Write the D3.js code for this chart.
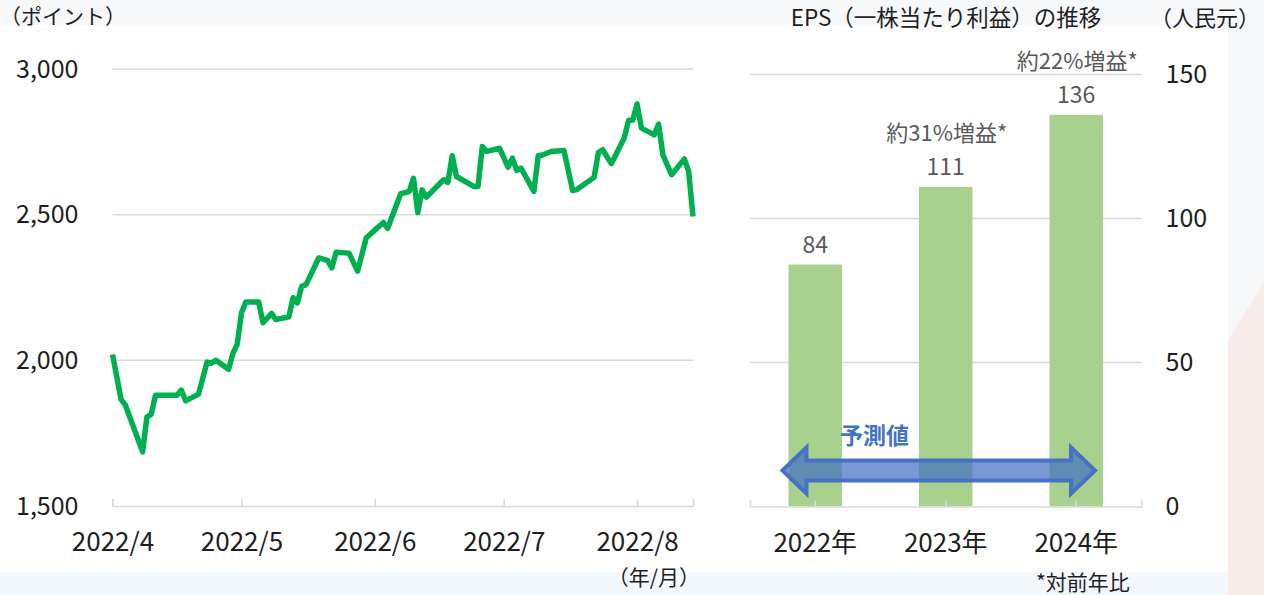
<!DOCTYPE html>
<html>
<head>
<meta charset="utf-8">
<script src="https://cdn.jsdelivr.net/npm/d3@7"></script>
<style>
  body { margin: 0; background: #fff; }
  svg { display: block; }
  text { font-family: "Noto Sans CJK JP", "Noto Sans", sans-serif; }
</style>
</head>
<body>
<svg id="chart" width="1264" height="595"></svg>
<script>
// Index level (points)
const indexDates = [
  "2022-04-01","2022-04-03","2022-04-04","2022-04-08","2022-04-09","2022-04-10","2022-04-11",
  "2022-04-16","2022-04-17","2022-04-18","2022-04-21","2022-04-23","2022-04-24","2022-04-25",
  "2022-04-28","2022-04-29","2022-04-30","2022-05-01","2022-05-02","2022-05-05","2022-05-06",
  "2022-05-08","2022-05-09","2022-05-12","2022-05-13","2022-05-14","2022-05-15","2022-05-16",
  "2022-05-19","2022-05-21","2022-05-22","2022-05-23","2022-05-26","2022-05-28","2022-05-30",
  "2022-06-01","2022-06-03","2022-06-04","2022-06-05","2022-06-07","2022-06-09","2022-06-10",
  "2022-06-11","2022-06-12","2022-06-13","2022-06-17","2022-06-18","2022-06-19","2022-06-20",
  "2022-06-24","2022-06-25","2022-06-26","2022-06-27","2022-06-30","2022-07-02","2022-07-03",
  "2022-07-04","2022-07-05","2022-07-08","2022-07-09","2022-07-10","2022-07-12","2022-07-15",
  "2022-07-17","2022-07-18","2022-07-22","2022-07-23","2022-07-24","2022-07-26","2022-07-29",
  "2022-07-30","2022-07-31","2022-08-01","2022-08-02","2022-08-05","2022-08-06","2022-08-07",
  "2022-08-09","2022-08-12","2022-08-13","2022-08-14"
];
const indexValues = [
  2020,1866,1846,1686,1805,1815,1880,
  1880,1898,1861,1884,1994,1990,2000,
  1969,2024,2055,2163,2200,2200,2129,
  2161,2140,2149,2215,2197,2254,2260,
  2352,2343,2317,2371,2368,2306,2420,
  2447,2473,2453,2493,2571,2580,2625,
  2507,2585,2560,2620,2611,2702,2631,
  2597,2597,2734,2717,2728,2663,2694,
  2652,2660,2580,2702,2705,2717,2720,
  2583,2586,2628,2713,2723,2675,2763,
  2823,2825,2880,2797,2774,2811,2705,
  2637,2691,2648,2494
];
const monthTicks = ["2022-04-01","2022-05-01","2022-06-01","2022-07-01","2022-08-01"];
const indexTicks = [1500, 2000, 2500, 3000];

// EPS (yuan)
const epsYears = ["2022年", "2023年", "2024年"];
const epsValues = [84, 111, 136];
const epsGrowth = ["", "約31%増益*", "約22%増益*"];
const epsTicks = [0, 50, 100, 150];

const parseDate = d3.timeParse("%Y-%m-%d");
const svg = d3.select("#chart");

// Background panels
svg.append("rect").attr("width", 1264).attr("height", 595).attr("fill", "#f7f8fa");
svg.append("rect").attr("x", 0).attr("y", 572).attr("width", 1228).attr("height", 23).attr("fill", "#f3f8fc");
svg.append("path").attr("d", "M1228,340 L1264,282 L1264,595 L1228,595 Z").attr("fill", "#f7ece9");
svg.append("rect").attr("x", 0).attr("y", 25).attr("width", 1228).attr("height", 547).attr("fill", "#fff");

const gridColor = "#d9d9d9";
const textColor = "#1e1e1e";

// ---------- Line chart ----------
const x = d3.scaleTime()
  .domain([parseDate("2022-04-01"), parseDate("2022-08-14")])
  .range([112.5, 693]);
const y = d3.scaleLinear().domain([1500, 3000]).range([506, 69]);

const lineData = indexDates.map((d, i) => ({date: parseDate(d), value: indexValues[i]}));

const left = svg.append("g");

left.append("g")
  .selectAll("line")
  .data(indexTicks.slice(1))
  .enter()
  .append("line")
  .attr("x1", x.range()[0]).attr("x2", x.range()[1])
  .attr("y1", (d) => y(d)).attr("y2", (d) => y(d))
  .attr("stroke", gridColor).attr("stroke-width", 1.5);

const xAxis = left.append("g")
  .attr("transform", `translate(0, ${y(1500)})`)
  .call(d3.axisBottom(x)
    .tickValues(monthTicks.map(parseDate))
    .tickFormat(d3.timeFormat("%Y/%-m"))
    .tickSizeInner(-7).tickSizeOuter(-7).tickPadding(27));
xAxis.selectAll("path, line").attr("stroke", gridColor).attr("stroke-width", 1.5);
xAxis.selectAll("text").attr("fill", textColor).style("font-size", "26px");

const yAxis = left.append("g")
  .attr("transform", `translate(${x.range()[0]}, 0)`)
  .call(d3.axisLeft(y).tickValues(indexTicks).tickFormat(d3.format(",")).tickSize(0).tickPadding(34));
yAxis.select(".domain").remove();
yAxis.selectAll("text").attr("fill", textColor).style("font-size", "25px");

const line = d3.line()
  .x((d) => x(d.date))
  .y((d) => y(d.value));

left.append("path")
  .attr("d", line(lineData))
  .attr("fill", "none")
  .attr("stroke", "#00b050")
  .attr("stroke-width", 5.5)
  .attr("stroke-linejoin", "round");

left.append("text").attr("x", 0).attr("y", 24)
  .attr("fill", textColor).style("font-size", "21px").text("（ポイント）");
left.append("text").attr("x", 700).attr("y", 585).attr("text-anchor", "end")
  .attr("fill", textColor).style("font-size", "21px").text("（年/月）");

// ---------- EPS bar chart ----------
const xb = d3.scaleBand().domain(epsYears).range([750, 1141.5]).paddingInner(0.59).paddingOuter(0.295);
const yb = d3.scaleLinear().domain([0, 150]).range([506.5, 74.5]);

const right = svg.append("g");

right.append("g")
  .selectAll("line")
  .data(epsTicks.slice(1))
  .enter()
  .append("line")
  .attr("x1", xb.range()[0]).attr("x2", xb.range()[1])
  .attr("y1", (d) => yb(d)).attr("y2", (d) => yb(d))
  .attr("stroke", gridColor).attr("stroke-width", 1.5);

right.selectAll("rect.bar")
  .data(epsValues)
  .enter()
  .append("rect")
  .attr("class", "bar")
  .attr("x", (d, i) => xb(epsYears[i]))
  .attr("y", (d) => yb(d))
  .attr("width", xb.bandwidth())
  .attr("height", (d) => yb(0) - yb(d))
  .attr("fill", "#a9d18e");

const xbAxis = right.append("g")
  .attr("transform", `translate(0, ${yb(0)})`)
  .call(d3.axisBottom(xb).tickSizeInner(-6).tickSizeOuter(-6).tickPadding(27));
xbAxis.selectAll("path, line").attr("stroke", gridColor).attr("stroke-width", 1.5);
xbAxis.selectAll("text").attr("fill", textColor).style("font-size", "26px");

const ybAxis = right.append("g")
  .attr("transform", `translate(${xb.range()[1]}, 0)`)
  .call(d3.axisRight(yb).tickValues(epsTicks).tickSize(0).tickPadding(24));
ybAxis.select(".domain").remove();
ybAxis.selectAll("text").attr("fill", textColor).style("font-size", "25px");

// value labels and growth notes
right.selectAll("text.val")
  .data(epsValues)
  .enter()
  .append("text")
  .attr("class", "val")
  .attr("x", (d, i) => xb(epsYears[i]) + xb.bandwidth() / 2)
  .attr("y", (d) => yb(d) - 12)
  .attr("text-anchor", "middle")
  .attr("fill", "#595959")
  .style("font-size", "23px")
  .text((d) => d);

right.selectAll("text.growth")
  .data(epsGrowth)
  .enter()
  .append("text")
  .attr("class", "growth")
  .attr("x", (d, i) => xb(epsYears[i]) + xb.bandwidth() / 2 + 1)
  .attr("y", (d, i) => yb(epsValues[i]) - 46)
  .attr("text-anchor", "middle")
  .attr("fill", "#595959")
  .style("font-size", "22px")
  .text((d) => d);

// forecast double arrow
const ax0 = xb(epsYears[0]) - 6,
      ax1 = xb(epsYears[2]) + xb.bandwidth() - 8,
      ay = yb(12.5),
      shaft = 10, head = 23, headLen = 24;
const arrowPath = d3.path();
arrowPath.moveTo(ax0, ay);
arrowPath.lineTo(ax0 + headLen, ay - head);
arrowPath.lineTo(ax0 + headLen, ay - shaft);
arrowPath.lineTo(ax1 - headLen, ay - shaft);
arrowPath.lineTo(ax1 - headLen, ay - head);
arrowPath.lineTo(ax1, ay);
arrowPath.lineTo(ax1 - headLen, ay + head);
arrowPath.lineTo(ax1 - headLen, ay + shaft);
arrowPath.lineTo(ax0 + headLen, ay + shaft);
arrowPath.lineTo(ax0 + headLen, ay + head);
arrowPath.closePath();
right.append("path")
  .attr("d", arrowPath.toString())
  .attr("fill", "#4472c4").attr("fill-opacity", 0.72)
  .attr("stroke", "#4472c4").attr("stroke-width", 4)
  .attr("stroke-linejoin", "miter");

right.append("text").attr("x", 840).attr("y", 444)
  .attr("fill", "#4472c4").style("font-size", "23px").style("font-weight", "bold").text("予測値");

right.append("text").attr("x", 946).attr("y", 26).attr("text-anchor", "middle")
  .attr("fill", textColor).style("font-size", "22.5px").text("EPS（一株当たり利益）の推移");
right.append("text").attr("x", 1150).attr("y", 26)
  .attr("fill", textColor).style("font-size", "22px").text("（人民元）");
right.append("text").attr("x", 1036).attr("y", 590)
  .attr("fill", textColor).style("font-size", "21px").text("*対前年比");
</script>
</body>
</html>
